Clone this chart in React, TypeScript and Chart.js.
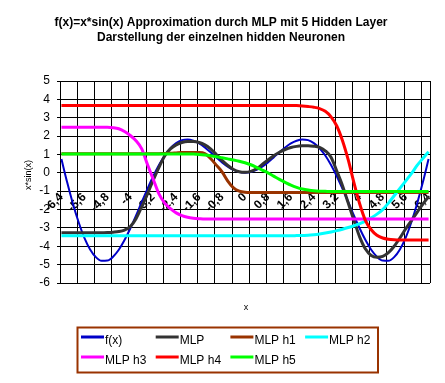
import React, { useEffect, useRef } from 'react';
import { Chart, registerables } from 'chart.js';

Chart.register(...registerables);

const titleLines = [
  'f(x)=x*sin(x) Approximation durch MLP mit 5 Hidden Layer',
  'Darstellung der einzelnen hidden Neuronen',
];
const xTitle = 'x';
const yTitle = 'x*sin(x)';

const seriesNames = ['f(x)', 'MLP', 'MLP h1', 'MLP h2', 'MLP h3', 'MLP h4', 'MLP h5'];
const seriesColors = ['#0000C8', '#333333', '#993300', '#00FFFF', '#FF00FF', '#FF0000', '#00FF00'];

const xValues = [
  -6.4, -6.2, -6.0, -5.8, -5.6, -5.4, -5.2, -5.0, -4.8, -4.6, -4.4, -4.2, -4.0, -3.8, -3.6, -3.4,
  -3.2, -3.0, -2.8, -2.6, -2.4, -2.2, -2.0, -1.8, -1.6, -1.4, -1.2, -1.0, -0.8, -0.6, -0.4, -0.2,
  0,
  0.2, 0.4, 0.6, 0.8, 1.0, 1.2, 1.4, 1.6, 1.8, 2.0, 2.2, 2.4, 2.6, 2.8, 3.0, 3.2,
  3.4, 3.6, 3.8, 4.0, 4.2, 4.4, 4.6, 4.8, 5.0, 5.2, 5.4, 5.6, 5.8, 6.0, 6.2, 6.4,
];

const fx = [
  0.75, -0.52, -1.68, -2.69, -3.54, -4.17, -4.59, -4.79, -4.78, -4.57, -4.19, -3.66, -3.03, -2.33, -1.59, -0.87,
  -0.19, 0.42, 0.94, 1.34, 1.62, 1.78, 1.82, 1.75, 1.6, 1.38, 1.12, 0.84, 0.57, 0.34, 0.16, 0.04,
  0,
  0.04, 0.16, 0.34, 0.57, 0.84, 1.12, 1.38, 1.6, 1.75, 1.82, 1.78, 1.62, 1.34, 0.94, 0.42, -0.19,
  -0.87, -1.59, -2.33, -3.03, -3.66, -4.19, -4.57, -4.78, -4.79, -4.59, -4.17, -3.54, -2.69, -1.68, -0.52, 0.75,
];

const mlp = [
  -3.27, -3.27, -3.27, -3.27, -3.27, -3.27, -3.26, -3.26, -3.25, -3.23, -3.2, -3.12, -2.93, -2.5, -1.85, -1.15,
  -0.4, 0.3, 0.92, 1.3, 1.52, 1.65, 1.7, 1.7, 1.65, 1.52, 1.3, 1.0, 0.68, 0.4, 0.18, 0.06,
  0.03,
  0.08, 0.22, 0.45, 0.7, 0.93, 1.12, 1.27, 1.38, 1.44, 1.47, 1.48, 1.45, 1.38, 1.2, 0.85, 0.1,
  -0.7, -1.65, -2.6, -3.5, -4.15, -4.5, -4.6, -4.55, -4.35, -4.0, -3.55, -3.05, -2.6, -2.15, -1.7, -1.3,
];

const h1 = [
  1.04, 1.04, 1.04, 1.04, 1.04, 1.04, 1.04, 1.04, 1.04, 1.04, 1.04, 1.04, 1.04, 1.04, 1.04, 1.04,
  1.04, 1.04, 1.05, 1.06, 1.08, 1.1, 1.1, 1.1, 1.1, 1.05, 0.78, 0.42, 0.05, -0.45, -0.82, -1.0,
  -1.06,
  -1.07, -1.07, -1.07, -1.07, -1.07, -1.07, -1.07, -1.07, -1.07, -1.07, -1.07, -1.07, -1.07, -1.07, -1.07, -1.07,
  -1.07, -1.07, -1.07, -1.07, -1.07, -1.07, -1.07, -1.07, -1.07, -1.07, -1.07, -1.07, -1.07, -1.07, -1.07, -1.07,
];

const h2 = [
  -3.43, -3.43, -3.43, -3.43, -3.43, -3.43, -3.43, -3.43, -3.43, -3.43, -3.43, -3.43, -3.43, -3.43, -3.43, -3.43,
  -3.43, -3.43, -3.43, -3.43, -3.43, -3.43, -3.43, -3.43, -3.43, -3.43, -3.43, -3.43, -3.43, -3.43, -3.43, -3.43,
  -3.43,
  -3.43, -3.43, -3.43, -3.43, -3.43, -3.43, -3.43, -3.43, -3.42, -3.41, -3.4, -3.37, -3.33, -3.28, -3.22, -3.15,
  -3.07, -2.98, -2.88, -2.77, -2.63, -2.45, -2.25, -2.0, -1.65, -1.25, -0.85, -0.45, -0.05, 0.4, 0.78, 1.15,
];

const h3 = [
  2.48, 2.48, 2.48, 2.48, 2.48, 2.48, 2.48, 2.48, 2.48, 2.46, 2.4, 2.25, 2.03, 1.75, 1.3, 0.45,
  -0.35, -1.15, -1.65, -1.95, -2.18, -2.33, -2.42, -2.47, -2.5, -2.52, -2.52, -2.52, -2.52, -2.52, -2.52, -2.52,
  -2.52,
  -2.52, -2.52, -2.52, -2.52, -2.52, -2.52, -2.52, -2.52, -2.52, -2.52, -2.52, -2.52, -2.52, -2.52, -2.52, -2.52,
  -2.52, -2.52, -2.52, -2.52, -2.52, -2.52, -2.52, -2.52, -2.52, -2.52, -2.52, -2.52, -2.52, -2.52, -2.52, -2.52,
];

const h4 = [
  3.67, 3.67, 3.67, 3.67, 3.67, 3.67, 3.67, 3.67, 3.67, 3.67, 3.67, 3.67, 3.67, 3.67, 3.67, 3.67,
  3.67, 3.67, 3.67, 3.67, 3.67, 3.67, 3.67, 3.67, 3.67, 3.67, 3.67, 3.67, 3.67, 3.67, 3.67, 3.67,
  3.67,
  3.67, 3.67, 3.67, 3.67, 3.67, 3.67, 3.67, 3.67, 3.66, 3.64, 3.61, 3.57, 3.5, 3.35, 3.05, 2.55,
  1.75, 0.7, -0.55, -1.7, -2.6, -3.1, -3.4, -3.55, -3.62, -3.65, -3.66, -3.66, -3.66, -3.66, -3.66, -3.66,
];

const h5 = [
  1.03, 1.03, 1.03, 1.03, 1.03, 1.03, 1.03, 1.03, 1.03, 1.03, 1.03, 1.03, 1.03, 1.03, 1.03, 1.03,
  1.03, 1.03, 1.03, 1.03, 1.03, 1.03, 1.03, 1.02, 1.0, 0.97, 0.93, 0.88, 0.82, 0.76, 0.7, 0.63,
  0.55,
  0.44, 0.3, 0.15, 0.0, -0.18, -0.36, -0.52, -0.67, -0.79, -0.88, -0.94, -0.98, -1.0, -1.01, -1.02, -1.02,
  -1.02, -1.02, -1.02, -1.02, -1.02, -1.02, -1.02, -1.02, -1.02, -1.02, -1.02, -1.02, -1.02, -1.02, -1.02, -1.02,
];

const seriesValues = [fx, mlp, h1, h2, h3, h4, h5];

const FONT = '"Liberation Sans", Arial, sans-serif';

const overlayPlugin = {
  id: 'overlay',
  afterDraw(chart: any) {
    const c = chart.ctx as CanvasRenderingContext2D;
    c.save();
    c.fillStyle = '#000';
    c.textAlign = 'center';
    c.textBaseline = 'alphabetic';
    c.font = `bold 12px ${FONT}`;
    c.fillText(titleLines[0], 221, 26);
    c.fillText(titleLines[1], 221, 41);

    c.font = `9px ${FONT}`;
    c.textBaseline = 'middle';
    c.fillText(xTitle, 246, 308);
    c.save();
    c.translate(29, 175);
    c.rotate(-Math.PI / 2);
    c.fillText(yTitle, 0, 0);
    c.restore();

    // legend box
    c.strokeStyle = '#993300';
    c.lineWidth = 2;
    c.strokeRect(77.5, 327.5, 300.5, 45);
    c.font = `12px ${FONT}`;
    c.textAlign = 'left';
    chart.data.datasets.forEach((ds: any, i: number) => {
      const col = i % 4;
      const row = Math.floor(i / 4);
      const lx = 81 + col * 74.7;
      const ly = 337 + row * 20;
      c.strokeStyle = ds.borderColor;
      c.lineWidth = 3;
      c.beginPath();
      c.moveTo(lx, ly);
      c.lineTo(lx + 23, ly);
      c.stroke();
      c.fillStyle = '#000';
      c.fillText(ds.label, lx + 24, ly + 4);
    });
    c.restore();
  },
};

export default function App() {
  const ref = useRef<HTMLCanvasElement>(null);
  useEffect(() => {
    if (!ref.current) return;
    const datasets = seriesNames.map((name, i) => ({
      label: name,
      data: xValues.map((x, j) => ({ x, y: seriesValues[i][j] })),
      borderColor: seriesColors[i],
      backgroundColor: seriesColors[i],
      borderWidth: i === 0 ? 2 : 3,
      pointRadius: 0,
      fill: false,
      cubicInterpolationMode: 'monotone' as const,
      order: seriesNames.length - i,
    }));
    const chart = new Chart(ref.current, {
      type: 'line',
      data: { datasets },
      plugins: [overlayPlugin],
      options: {
        animation: false,
        responsive: false,
        devicePixelRatio: 1,
        layout: { padding: { left: 20, right: 15, top: 81, bottom: 100 } },
        plugins: {
          legend: { display: false },
          title: { display: false },
          tooltip: { enabled: false },
        },
        scales: {
          x: {
            type: 'linear',
            min: -6.45,
            max: 6.45,
            position: { y: -1 } as any,
            grid: { display: false, drawTicks: false },
            border: { display: false },
            ticks: {
              stepSize: 0.8,
              includeBounds: false,
              autoSkip: false,
              maxRotation: 45,
              minRotation: 45,
              padding: -1,
              color: '#000',
              font: { family: FONT, size: 12, weight: 'bold' },
              callback: (v: any) => String(Math.round(Number(v) * 10) / 10).replace('.', ','),
            },
          },
          xGrid: {
            type: 'linear',
            axis: 'x',
            min: -6.45,
            max: 6.45,
            position: 'bottom',
            ticks: { display: false },
            grid: { color: '#000', lineWidth: 1, drawTicks: false },
            border: { display: false },
            afterBuildTicks: (s: any) => {
              const t: { value: number }[] = [];
              for (let k = 0; k <= 21; k++) t.push({ value: -6.45 + 0.6 * k });
              t.push({ value: 6.45 });
              s.ticks = t;
            },
            afterFit: (s: any) => {
              s.height = 0;
            },
          } as any,
          y: {
            type: 'linear',
            min: -6,
            max: 5,
            ticks: {
              stepSize: 1,
              padding: 7,
              color: '#000',
              font: { family: FONT, size: 12 },
            },
            grid: { color: '#000', lineWidth: 1, tickLength: 3 },
            border: { color: '#000', width: 1 },
            afterFit: (s: any) => {
              s.width = 40;
            },
          },
        },
      },
    });
    return () => chart.destroy();
  }, []);
  return (
    <div style={{ position: 'absolute', left: 0, top: 0, width: 445, height: 383, background: '#fff' }}>
      <canvas ref={ref} width={445} height={383} />
    </div>
  );
}
